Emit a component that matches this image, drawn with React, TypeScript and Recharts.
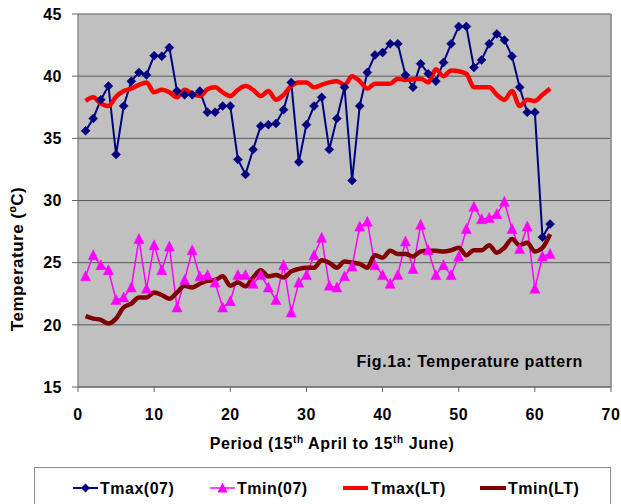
import React from 'react';
import { LineChart, Line, XAxis, YAxis, CartesianGrid, ReferenceLine } from 'recharts';

const FONT = '"Liberation Sans", Arial, Helvetica, sans-serif';

const days = [1, 2, 3, 4, 5, 6, 7, 8, 9, 10, 11, 12, 13, 14, 15, 16, 17, 18, 19, 20, 21, 22, 23, 24, 25, 26, 27, 28, 29, 30, 31, 32, 33, 34, 35, 36, 37, 38, 39, 40, 41, 42, 43, 44, 45, 46, 47, 48, 49, 50, 51, 52, 53, 54, 55, 56, 57, 58, 59, 60, 61, 62];

const tmax07 = [35.6, 36.6, 38.1, 39.2, 33.7, 37.6, 39.6, 40.3, 40.1, 41.65, 41.6, 42.3, 38.8, 38.5, 38.5, 38.8, 37.1, 37.1, 37.6, 37.6, 33.3, 32.1, 34.1, 36.0, 36.1, 36.2, 37.3, 39.5, 33.1, 36.1, 37.6, 38.3, 34.1, 36.6, 39.1, 31.6, 37.6, 40.3, 41.7, 41.9, 42.6, 42.6, 40.1, 39.1, 41.0, 40.2, 39.6, 41.1, 42.6, 44.0, 44.0, 40.7, 41.3, 42.6, 43.4, 42.9, 41.6, 39.1, 37.1, 37.1, 27.05, 28.1];

const tmin07 = [23.9, 25.6, 24.8, 24.4, 22.0, 22.2, 23.0, 26.9, 22.9, 26.4, 24.4, 26.3, 21.4, 23.6, 26.0, 23.9, 24.0, 23.4, 21.4, 21.9, 24.0, 24.0, 23.3, 24.0, 23.0, 22.0, 24.8, 21.0, 23.4, 24.0, 25.6, 27.0, 23.15, 23.0, 23.9, 24.7, 27.9, 28.3, 24.8, 24.0, 23.3, 24.0, 26.7, 24.5, 28.05, 26.0, 24.0, 24.8, 24.0, 25.5, 27.7, 29.5, 28.5, 28.6, 28.9, 29.9, 27.7, 26.1, 27.9, 22.9, 25.5, 25.7];

const tmaxLT = [38.0, 38.3, 37.8, 37.6, 38.35, 38.8, 39.0, 39.3, 39.5, 38.7, 38.9, 38.7, 38.3, 38.9, 38.6, 38.4, 38.95, 39.1, 38.7, 38.4, 38.9, 39.2, 38.9, 38.4, 38.8, 38.1, 38.5, 39.2, 39.5, 39.5, 39.1, 39.3, 39.5, 39.6, 39.3, 40.0, 39.6, 39.0, 39.4, 39.4, 39.4, 39.8, 39.7, 39.75, 39.8, 39.5, 40.55, 40.0, 40.45, 40.4, 40.2, 39.1, 39.1, 39.1, 38.5, 38.1, 38.8, 37.6, 38.1, 38.0, 38.5, 39.0];

const tminLT = [20.7, 20.5, 20.4, 20.1, 20.5, 21.4, 21.7, 22.2, 22.2, 22.6, 22.4, 22.1, 22.6, 23.15, 23.0, 23.3, 23.55, 23.6, 23.9, 23.15, 23.4, 23.1, 23.8, 24.4, 23.9, 24.0, 23.8, 24.3, 24.5, 24.6, 24.6, 25.2, 25.0, 24.6, 25.1, 25.0, 24.9, 24.6, 25.6, 25.4, 25.95, 25.7, 25.7, 25.5, 25.9, 25.95, 25.95, 25.9, 26.0, 26.2, 25.6, 26.0, 26.0, 26.4, 25.8, 26.2, 26.9, 26.4, 26.6, 25.9, 26.2, 27.3];

const xTicks = [0, 10, 20, 30, 40, 50, 60, 70];
const yTicks = [15, 20, 25, 30, 35, 40, 45];
const seriesNames = ['Tmax(07)', 'Tmin(07)', 'Tmax(LT)', 'Tmin(LT)'];
const yTitle = 'Temperature (ºC)';
const figText = 'Fig.1a: Temperature pattern';

const C_TMAX07 = '#000080';
const C_TMIN07 = '#FF00FF';
const C_TMAXLT = '#FF0000';
const C_TMINLT = '#800000';

const data = days.map((d, i) => ({
  day: d,
  tmax07: tmax07[i],
  tmin07: tmin07[i],
  tmaxLT: tmaxLT[i],
  tminLT: tminLT[i],
}));

const Diamond = (p: any) => {
  const { cx, cy, index } = p;
  if (cx == null || cy == null) return <g key={`dm-${index}`} />;
  const r = 4.5;
  return (
    <path
      key={`dm-${index}`}
      d={`M${cx},${cy - r} L${cx + r},${cy} L${cx},${cy + r} L${cx - r},${cy} Z`}
      fill={C_TMAX07}
      stroke={C_TMAX07}
      strokeWidth={0.5}
    />
  );
};

const Triangle = (p: any) => {
  const { cx, cy, index } = p;
  if (cx == null || cy == null) return <g key={`tr-${index}`} />;
  return (
    <path
      key={`tr-${index}`}
      d={`M${cx},${cy - 5.5} L${cx + 5},${cy + 4.5} L${cx - 5},${cy + 4.5} Z`}
      fill={C_TMIN07}
      stroke={C_TMIN07}
      strokeWidth={0.5}
    />
  );
};

const tickStyle = { fontFamily: FONT, fontSize: 16, fontWeight: 700, fill: '#000', letterSpacing: 0.5 };

export default function App() {
  return (
    <div style={{ position: 'absolute', left: 0, top: 0, width: 621, height: 504, background: '#fff', overflow: 'hidden' }}>
      <LineChart
        width={621}
        height={504}
        data={data}
        margin={{ top: 14, right: 10, bottom: 87, left: 0 }}
      >
        <CartesianGrid vertical={false} fill="#C0C0C0" fillOpacity={1} stroke="#5A5A5A" strokeWidth={1} />
        <XAxis
          dataKey="day"
          type="number"
          domain={[0, 70]}
          ticks={xTicks}
          interval={0}
          height={30}
          tickSize={5}
          tickMargin={17}
          axisLine={{ stroke: '#666' }}
          tickLine={{ stroke: '#666' }}
          tick={tickStyle}
        />
        <YAxis
          type="number"
          domain={[15, 45]}
          ticks={yTicks}
          interval={0}
          width={78}
          tickSize={6}
          tickMargin={10}
          axisLine={{ stroke: '#666' }}
          tickLine={{ stroke: '#666' }}
          tick={tickStyle}
        />
        <ReferenceLine x={70} stroke="#9A9A9A" strokeWidth={2} ifOverflow="visible" />
        <Line
          dataKey="tmax07"
          name={seriesNames[0]}
          type="linear"
          stroke={C_TMAX07}
          strokeWidth={2}
          dot={Diamond}
          activeDot={false}
          isAnimationActive={false}
        />
        <Line
          dataKey="tmin07"
          name={seriesNames[1]}
          type="linear"
          stroke={C_TMIN07}
          strokeWidth={1.5}
          dot={Triangle}
          activeDot={false}
          isAnimationActive={false}
        />
        <Line
          dataKey="tmaxLT"
          name={seriesNames[2]}
          type="monotone"
          stroke={C_TMAXLT}
          strokeWidth={4.5}
          dot={false}
          activeDot={false}
          isAnimationActive={false}
        />
        <Line
          dataKey="tminLT"
          name={seriesNames[3]}
          type="monotone"
          stroke={C_TMINLT}
          strokeWidth={4.5}
          dot={false}
          activeDot={false}
          isAnimationActive={false}
        />
      </LineChart>
      <svg
        width={621}
        height={504}
        style={{ position: 'absolute', left: 0, top: 0, pointerEvents: 'none' }}
      >
        <g style={{ fontFamily: FONT, fontWeight: 700 }} fill="#000">
          <text x={583} y={367} textAnchor="end" fontSize={16} letterSpacing={0.6}>{figText}</text>
          <text x={23} y={259} textAnchor="middle" fontSize={17} letterSpacing={0.5} transform="rotate(-90 23 259)">{yTitle}</text>
          <text x={332} y={449} textAnchor="middle" fontSize={16} letterSpacing={0.6}>
            <tspan>Period (15</tspan>
            <tspan fontSize={10} dy={-6}>th</tspan>
            <tspan dy={6}> April to 15</tspan>
            <tspan fontSize={10} dy={-6}>th</tspan>
            <tspan dy={6}> June)</tspan>
          </text>
        </g>
        <rect x={34.5} y={467.5} width={576} height={60} fill="#fff" stroke="#8A8A8A" strokeWidth={1} />
        <g style={{ fontFamily: FONT, fontWeight: 700 }} fill="#000" fontSize={16} letterSpacing={0.5}>
          <line x1={73} y1={488} x2={98} y2={488} stroke={C_TMAX07} strokeWidth={2} />
          <path d="M85.5,483.5 L90,488 L85.5,492.5 L81,488 Z" fill={C_TMAX07} />
          <text x={100} y={494}>{seriesNames[0]}</text>

          <line x1={210} y1={488} x2={235} y2={488} stroke={C_TMIN07} strokeWidth={1.5} />
          <path d="M222.5,482.5 L227.5,492.5 L217.5,492.5 Z" fill={C_TMIN07} />
          <text x={237} y={494}>{seriesNames[1]}</text>

          <line x1={343} y1={488} x2={368} y2={488} stroke={C_TMAXLT} strokeWidth={4} />
          <text x={371} y={494}>{seriesNames[2]}</text>

          <line x1={480} y1={488} x2={506} y2={488} stroke={C_TMINLT} strokeWidth={4} />
          <text x={508} y={494}>{seriesNames[3]}</text>
        </g>
      </svg>
    </div>
  );
}
